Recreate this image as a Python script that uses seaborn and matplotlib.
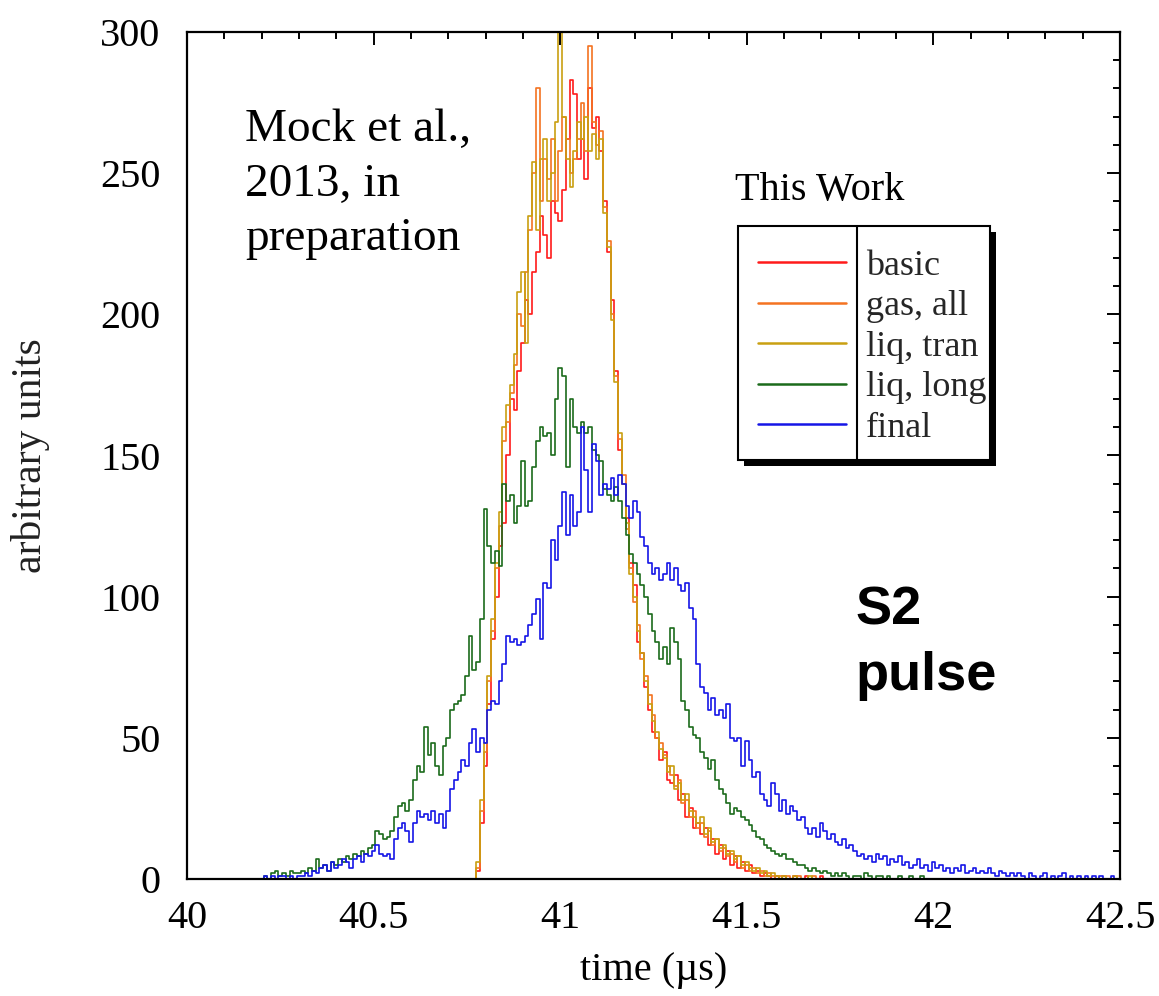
import numpy as np
import pandas as pd
import matplotlib
matplotlib.use("Agg")
import matplotlib.pyplot as plt
from matplotlib.patches import Rectangle
from matplotlib.lines import Line2D
import seaborn as sns

# ---------------- data (bin width 0.01 us) ----------------
BIN = 0.01

basic_start = 40.70
basic = [0, 0, 0, 0, 0, 0, 0, 0, 3, 20,
         40, 62, 85, 100, 118, 126, 150, 170, 166, 180,
         190, 205, 200, 215, 222, 235, 228, 220, 240, 236,
         233, 244, 262, 283, 278, 255, 262, 248, 280, 266,
         270, 258, 240, 222, 205, 180, 152, 140, 128, 112,
         104, 84, 80, 68, 60, 52, 50, 42, 45, 35,
         34, 37, 28, 30, 22, 25, 18, 20, 16, 18,
         12, 14, 9, 12, 7, 10, 5, 8, 4, 6,
         3, 5, 2, 3, 1, 2, 1, 0, 1, 0,
         1, 0, 0, 1, 0, 0, 1, 0, 0, 0,
         1, 0, 0, 0, 0, 0, 0, 0, 0, 0]

gas_all_start = 40.70
gas_all = [0, 0, 0, 0, 0, 0, 0, 0, 4, 24,
           45, 70, 88, 110, 125, 155, 162, 172, 182, 200,
           196, 215, 230, 250, 280, 240, 255, 248, 262, 240,
           258, 270, 262, 250, 255, 262, 275, 258, 295, 268,
           260, 265, 238, 226, 200, 178, 156, 143, 124, 110,
           98, 90, 78, 72, 65, 58, 50, 48, 44, 40,
           37, 33, 35, 27, 28, 22, 24, 18, 20, 15,
           17, 12, 14, 10, 11, 8, 9, 6, 8, 4,
           5, 3, 4, 2, 3, 1, 2, 1, 0, 1,
           0, 1, 0, 0, 1, 0, 0, 0, 1, 0,
           0, 0, 0, 0, 0, 0, 0, 0, 0, 0]

liq_tran_start = 40.70
liq_tran = [0, 0, 0, 0, 0, 0, 0, 0, 6, 28,
            48, 72, 92, 112, 130, 160, 168, 175, 186, 208,
            215, 190, 235, 254, 230, 255, 262, 240, 250, 268,
            305, 270, 255, 245, 258, 268, 262, 270, 258, 264,
            255, 262, 236, 224, 198, 176, 158, 140, 126, 108,
            100, 88, 80, 70, 62, 56, 52, 46, 43, 38,
            40, 32, 34, 28, 30, 24, 22, 20, 22, 16,
            18, 13, 14, 11, 12, 9, 10, 7, 8, 5,
            6, 4, 3, 4, 2, 3, 1, 2, 1, 0,
            1, 0, 0, 1, 0, 0, 0, 1, 0, 0,
            0, 0, 0, 0, 0, 0, 0, 0, 0, 0]

liq_long_start = 40.20
liq_long = [0, 1, 0, 2, 3, 1, 2, 1, 3, 2,
            2, 3, 2, 4, 3, 7, 4, 5, 3, 6,
            5, 7, 6, 8, 7, 9, 8, 10, 9, 11,
            12, 17, 16, 14, 15, 17, 22, 26, 27, 24,
            28, 35, 40, 38, 54, 44, 48, 40, 37, 47,
            50, 60, 62, 63, 65, 72, 86, 74, 77, 92,
            131, 118, 112, 116, 111, 140, 134, 136, 126, 132,
            148, 132, 134, 146, 155, 160, 157, 158, 150, 170,
            181, 178, 146, 170, 160, 158, 162, 158, 160, 152,
            150, 148, 138, 136, 134, 139, 134, 128, 122, 115,
            112, 108, 104, 100, 94, 88, 84, 78, 82, 76,
            89, 84, 78, 63, 60, 54, 51, 50, 45, 43,
            39, 42, 35, 32, 30, 27, 23, 25, 24, 22,
            21, 19, 17, 15, 14, 12, 11, 10, 9, 8,
            9, 7, 7, 6, 5, 5, 4, 3, 4, 3,
            2, 3, 2, 1, 2, 1, 2, 1, 0, 1,
            1, 0, 2, 1, 0, 1, 1, 0, 1, 0,
            0, 1, 0, 0, 1, 0, 0, 1, 0, 0]

final_start = 40.20
final = [0, 1, 0, 1, 0, 1, 1, 0, 1, 0,
         1, 1, 2, 1, 3, 2, 4, 5, 3, 6,
         4, 5, 7, 6, 4, 7, 8, 6, 9, 8,
         10, 12, 9, 8, 9, 7, 14, 18, 20, 17,
         13, 20, 24, 22, 23, 21, 24, 20, 23, 18,
         24, 32, 35, 38, 42, 40, 48, 53, 45, 50,
         48, 60, 63, 62, 70, 76, 86, 84, 85, 83,
         84, 86, 90, 94, 99, 85, 105, 103, 120, 113,
         125, 137, 122, 136, 125, 130, 160, 145, 130, 154,
         148, 136, 140, 138, 142, 136, 143, 140, 132, 128,
         134, 130, 121, 118, 112, 108, 110, 106, 108, 112,
         106, 110, 104, 102, 105, 96, 92, 76, 68, 66,
         60, 64, 58, 60, 57, 62, 50, 49, 50, 40,
         49, 42, 36, 38, 30, 28, 26, 34, 30, 24,
         28, 23, 26, 24, 21, 22, 18, 16, 18, 15,
         20, 17, 14, 16, 13, 12, 14, 11, 12, 10,
         8, 9, 7, 8, 6, 9, 7, 8, 5, 7,
         6, 8, 5, 6, 4, 5, 7, 4, 5, 3,
         6, 4, 5, 3, 4, 2, 4, 3, 5, 2,
         3, 4, 2, 3, 2, 4, 2, 1, 3, 2,
         1, 2, 1, 2, 1, 0, 2, 1, 0, 1,
         2, 0, 1, 0, 1, 2, 0, 1, 0, 1,
         0, 1, 0, 1, 0, 1, 0, 0, 1, 0]

series_names = ["basic", "gas, all", "liq, tran", "liq, long", "final"]
series_values = [basic, gas_all, liq_tran, liq_long, final]
series_starts = [basic_start, gas_all_start, liq_tran_start, liq_long_start, final_start]
series_colors = ["#ff1a1a", "#f47321", "#c9a012", "#1b6b1b", "#1515e6"]

x_ticks = [40, 40.5, 41, 41.5, 42, 42.5]
x_ticklabels = ["40", "40.5", "41", "41.5", "42", "42.5"]
y_ticks = [0, 50, 100, 150, 200, 250, 300]

# ---------------- build long table ----------------
frames = []
for name, vals, start in zip(series_names, series_values, series_starts):
    t = np.round(start + BIN * np.arange(len(vals)), 3)
    frames.append(pd.DataFrame({"time": t, "value": vals, "series": name}))
df = pd.concat(frames, ignore_index=True)

# ---------------- style ----------------
sns.set_theme(style="white")
plt.rcParams["font.family"] = ["Liberation Serif", "DejaVu Serif"]

W, H = 1159, 996
fig = plt.figure(figsize=(W / 100, H / 100), dpi=100)
L, R, T, B = 187, 1120, 32, 879
ax = fig.add_axes([L / W, (H - B) / H, (R - L) / W, (B - T) / H])

for name, color in zip(series_names, series_colors):
    sub = df[df["series"] == name]
    sns.lineplot(data=sub, x="time", y="value", ax=ax, color=color,
                 drawstyle="steps-mid", linewidth=1.2, legend=False,
                 estimator=None, errorbar=None)

ax.set_xlim(40, 42.5)
ax.set_ylim(0, 300)
ax.set_xticks(x_ticks)
ax.set_xticklabels(x_ticklabels)
ax.set_yticks(y_ticks)
ax.set_xticks(np.round(np.arange(40, 42.51, 0.1), 2), minor=True)
ax.set_yticks(np.arange(0, 301, 10), minor=True)
ax.tick_params(axis="both", which="both", direction="in", top=True, right=True,
               colors="black", width=1.4)
ax.tick_params(axis="both", which="major", length=9.5, labelsize=29)
ax.tick_params(axis="both", which="minor", length=5)
ax.tick_params(axis="x", which="major", pad=15)
ax.tick_params(axis="y", which="major", pad=19)
for sp in ax.spines.values():
    sp.set_color("black")
    sp.set_linewidth(1.6)

ax.set_xlabel("time (\u00b5s)", fontsize=29, color="black")
ax.set_ylabel("arbitrary units", fontsize=30, color="#222222")
ax.xaxis.set_label_coords(0.5, -0.086)
ax.yaxis.set_label_coords(-0.147, 0.5)

# annotations
ax.text(0.062, 0.910, "Mock et al.,\n2013, in\npreparation", transform=ax.transAxes,
        fontsize=34, ha="left", va="top", linespacing=1.38, color="black")
ax.text(0.716, 0.346, "S2\npulse", transform=ax.transAxes,
        fontsize=39, fontweight="bold", family=["Liberation Sans", "DejaVu Sans"],
        ha="left", va="top", linespacing=1.38, color="black")
ax.text(0.5874, 0.8017, "This Work", transform=ax.transAxes, fontsize=29,
        ha="left", va="baseline", color="black")

# legend box with shadow and divider
bx0, by0, bw, bh = 0.5906, 0.4947, 0.2701, 0.2763
ax.add_patch(Rectangle((bx0 + 0.0064, by0 - 0.0071), bw, bh, transform=ax.transAxes,
                       facecolor="black", edgecolor="black", lw=0, zorder=4))
ax.add_patch(Rectangle((bx0, by0), bw, bh, transform=ax.transAxes,
                       facecolor="white", edgecolor="black", lw=1.5, zorder=4.5))
ax.add_line(Line2D([0.718, 0.718], [by0, by0 + bh], transform=ax.transAxes,
                   color="black", lw=1.5, zorder=4.6))

handles = [Line2D([0], [0], color=c, lw=1.8) for c in series_colors]
leg = ax.legend(handles, series_names, loc="upper left", bbox_to_anchor=(0.612, 0.743),
                frameon=False, fontsize=26, handlelength=2.45, handletextpad=0.55,
                labelspacing=0.2, borderpad=0, borderaxespad=0)
leg.set_zorder(6)

fig.savefig("out.png", dpi=100)
